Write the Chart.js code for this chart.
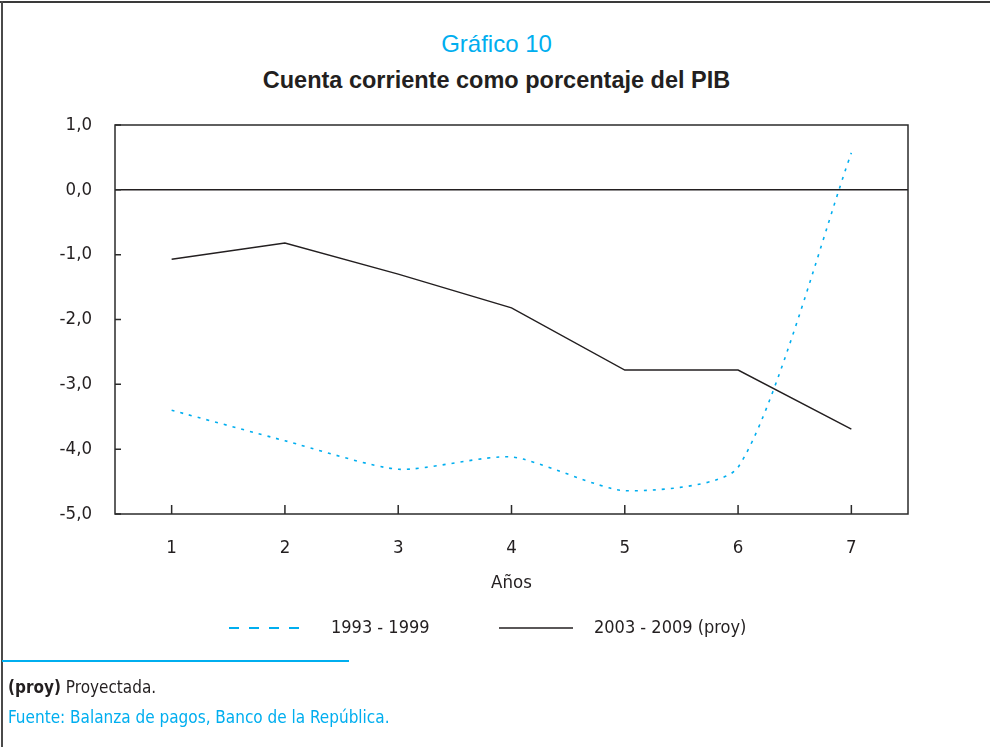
<!DOCTYPE html>
<html>
<head>
<meta charset="utf-8">
<script src="https://cdn.jsdelivr.net/npm/chart.js@4.4.0/dist/chart.umd.min.js"></script>
<style>
  body { margin: 0; width: 990px; height: 747px; background: #fff; position: relative; overflow: hidden;
         font-family: "DejaVu Sans Condensed", "Liberation Sans", sans-serif; color: #231f20; }
  .abs { position: absolute; white-space: nowrap; }
  #chart { position: absolute; left: 0; top: 0; }
  .head { font-family: "Liberation Sans", Arial, sans-serif; left: 0; width: 993px; text-align: center; }
</style>
</head>
<body>
<div class="abs" style="left:0;top:1px;width:990px;height:2px;background:#3a3a3a"></div>
<div class="abs" style="left:1px;top:1px;width:2px;height:747px;background:#4a4a4a"></div>

<div class="abs head" style="top:30px;font-size:24px;color:#00aeef">Gráfico 10</div>
<div class="abs head" style="top:67px;font-size:23.5px;font-weight:bold">Cuenta corriente como porcentaje del PIB</div>

<canvas id="chart" width="990" height="747"></canvas>

<!-- legend -->
<svg class="abs" style="left:0;top:615px" width="990" height="26">
  <line x1="229" y1="13" x2="303" y2="13" stroke="#00aeef" stroke-width="2" stroke-dasharray="10 10"/>
  <line x1="499" y1="13" x2="573" y2="13" stroke="#231f20" stroke-width="1.5"/>
</svg>
<div class="abs" style="left:331px;top:616px;font-size:18px">1993 - 1999</div>
<div class="abs" style="left:594px;top:616px;font-size:18px">2003 - 2009 (proy)</div>

<div class="abs" style="left:2px;top:660px;width:347px;height:2px;background:#00aeef"></div>
<div class="abs" style="left:8px;top:677px;font-size:17px"><b>(proy)</b> Proyectada.</div>
<div class="abs" style="left:8px;top:707px;font-size:17px;color:#00aeef">Fuente: Balanza de pagos, Banco de la República.</div>

<script>
const years = ["1", "2", "3", "4", "5", "6", "7"];
const serie1993 = [-3.40, -3.87, -4.31, -4.12, -4.64, -4.28, 0.57];
const serie2003 = [-1.07, -0.82, -1.30, -1.82, -2.78, -2.78, -3.69];
const yTicks = [1, 0, -1, -2, -3, -4, -5];

const tickFont = { family: '"DejaVu Sans Condensed", "Liberation Sans", sans-serif', size: 18.5 };

// box around the plot plus the small inward tick marks
const framePlugin = {
  id: "frame",
  afterDraw(chart) {
    const { ctx, chartArea: a, scales } = chart;
    ctx.save();
    ctx.strokeStyle = "#2b2b2b";
    ctx.lineWidth = 1.5;
    ctx.strokeRect(a.left, a.top, a.right - a.left, a.bottom - a.top);
    ctx.beginPath();
    scales.x.ticks.forEach((t, i) => {
      const px = scales.x.getPixelForTick(i);
      ctx.moveTo(px, a.bottom);
      ctx.lineTo(px, a.bottom - 9);
    });
    scales.y.ticks.forEach((t, i) => {
      const py = scales.y.getPixelForTick(i);
      ctx.moveTo(a.left, py);
      ctx.lineTo(a.left + 6, py);
    });
    ctx.stroke();
    ctx.restore();
  },
};

new Chart(document.getElementById("chart"), {
  type: "line",
  data: {
    labels: years,
    datasets: [
      {
        label: "1993 - 1999",
        data: serie1993,
        borderColor: "#00aeef",
        borderWidth: 1.6,
        borderDash: [3, 6],
        tension: 0.22,
        pointRadius: 0,
        fill: false,
      },
      {
        label: "2003 - 2009 (proy)",
        data: serie2003,
        borderColor: "#231f20",
        borderWidth: 1.4,
        tension: 0,
        pointRadius: 0,
        fill: false,
      },
    ],
  },
  options: {
    responsive: false,
    animation: false,
    layout: { padding: { top: 125, right: 82, bottom: 143, left: 0 } },
    plugins: { legend: { display: false }, tooltip: { enabled: false } },
    scales: {
      x: {
        offset: true,
        grid: { display: false, drawTicks: false },
        border: { display: false },
        ticks: { font: tickFont, color: "#231f20", padding: 23, maxRotation: 0 },
        title: { display: true, text: "Años", font: tickFont, color: "#231f20", padding: { top: 0, bottom: 10 } },
        afterFit: (s) => { s.height = 90; },
      },
      y: {
        min: -5,
        max: 1,
        afterBuildTicks: (s) => { s.ticks = yTicks.map((v) => ({ value: v })); },
        grid: {
          drawTicks: false,
          color: (c) => (c.tick && c.tick.value === 0 ? "#231f20" : "transparent"),
          lineWidth: 1.4,
        },
        border: { display: false },
        ticks: {
          font: tickFont,
          color: "#231f20",
          padding: 23,
          callback: (v) => v.toFixed(1).replace(".", ","),
        },
        afterFit: (s) => { s.width = 115; },
      },
    },
  },
  plugins: [framePlugin],
});
</script>
</body>
</html>
